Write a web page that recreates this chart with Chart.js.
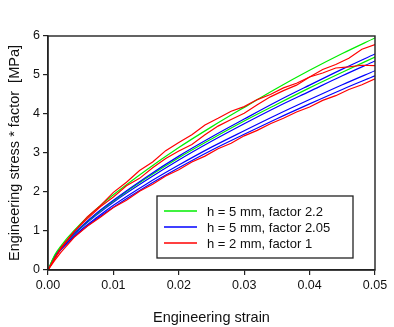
<!DOCTYPE html>
<html>
<head>
<meta charset="utf-8">
<script src="https://cdn.jsdelivr.net/npm/chart.js@4"></script>
<style>
  html, body { margin: 0; padding: 0; background: #fff; }
  #wrap { width: 394px; height: 327px; }
</style>
</head>
<body>
<div id="wrap"><canvas id="chart" width="394" height="327"></canvas></div>
<script>
// strain grids
var xSmooth = [0, 0.001, 0.002, 0.003, 0.005, 0.0075, 0.01, 0.015, 0.02, 0.025, 0.03, 0.035, 0.04, 0.045, 0.05];
var xRed = [0, 0.001, 0.002, 0.004, 0.006, 0.008, 0.010, 0.012, 0.014, 0.016, 0.018, 0.020, 0.022,
            0.024, 0.026, 0.028, 0.030, 0.032, 0.034, 0.036, 0.038, 0.040, 0.042, 0.044, 0.046, 0.048, 0.050];

// h = 5 mm, factor 2.2 (green)
var green1 = [0, 0.38, 0.62, 0.83, 1.19, 1.58, 1.93, 2.56, 3.14, 3.67, 4.17, 4.66, 5.12, 5.55, 5.95];
var green2 = [0, 0.35, 0.57, 0.76, 1.09, 1.45, 1.77, 2.35, 2.88, 3.36, 3.82, 4.25, 4.67, 5.07, 5.46];

// h = 5 mm, factor 2.05 (blue)
var blue1 = [0, 0.34, 0.57, 0.77, 1.10, 1.47, 1.79, 2.38, 2.92, 3.41, 3.87, 4.32, 4.74, 5.15, 5.54];
var blue2 = [0, 0.33, 0.56, 0.75, 1.07, 1.42, 1.74, 2.30, 2.82, 3.30, 3.75, 4.18, 4.58, 4.98, 5.36];
var blue3 = [0, 0.32, 0.54, 0.71, 1.02, 1.35, 1.66, 2.20, 2.69, 3.15, 3.57, 3.98, 4.37, 4.75, 5.11];
var blue4 = [0, 0.31, 0.52, 0.70, 0.99, 1.32, 1.61, 2.14, 2.62, 3.07, 3.48, 3.88, 4.26, 4.63, 4.98];

// h = 2 mm, factor 1 (red, noisy)
var red1 = [0, 0.30, 0.58, 0.99, 1.31, 1.62, 1.87, 2.16, 2.35, 2.62, 2.86, 3.05, 3.22, 3.47, 3.69,
            3.86, 4.02, 4.24, 4.44, 4.60, 4.74, 4.95, 5.14, 5.27, 5.43, 5.66, 5.78];
var red2 = [0, 0.28, 0.55, 0.98, 1.36, 1.65, 1.99, 2.25, 2.55, 2.77, 3.06, 3.27, 3.47, 3.72, 3.89,
            4.07, 4.19, 4.37, 4.50, 4.67, 4.79, 4.95, 5.05, 5.18, 5.21, 5.25, 5.24];
var red3 = [0, 0.24, 0.46, 0.84, 1.12, 1.35, 1.60, 1.79, 2.02, 2.20, 2.41, 2.57, 2.77, 2.92, 3.11,
            3.25, 3.44, 3.58, 3.75, 3.89, 4.05, 4.18, 4.35, 4.47, 4.63, 4.75, 4.90];

var legendLabels = ['h = 5 mm, factor 2.2', 'h = 5 mm, factor 2.05', 'h = 2 mm, factor 1'];
var legendColors = ['#00ee00', '#0000ff', '#ff0000'];

var xTicks = [0, 0.01, 0.02, 0.03, 0.04, 0.05];
var yTicks = [0, 1, 2, 3, 4, 5, 6];

function pts(xs, ys) {
    return xs.map(function (x, i) { return { x: x, y: ys[i] }; });
}

function series(xs, ys, color, jagged) {
    return {
        data: pts(xs, ys),
        borderColor: color,
        borderWidth: 1.2,
        pointRadius: 0,
        fill: false,
        tension: jagged ? 0 : 0.35,
        cubicInterpolationMode: jagged ? 'default' : 'monotone'
    };
}

var FONT = '"Liberation Sans", Arial, sans-serif';
var INK = '#111';

var framePlugin = {
    id: 'frame',
    afterDatasetsDraw: function (chart) {
        var a = chart.chartArea, ctx = chart.ctx;
        ctx.save();
        ctx.strokeStyle = '#222';
        ctx.lineWidth = 1.4;
        ctx.strokeRect(a.left, a.top, a.right - a.left, a.bottom - a.top);
        ctx.restore();
    }
};

var legendPlugin = {
    id: 'boxLegend',
    afterDraw: function (chart) {
        var ctx = chart.ctx;
        var x0 = 157, y0 = 196, w = 196, h = 62;
        ctx.save();
        ctx.fillStyle = '#fff';
        ctx.fillRect(x0, y0, w, h);
        ctx.strokeStyle = '#222';
        ctx.lineWidth = 1.3;
        ctx.strokeRect(x0, y0, w, h);
        ctx.font = '13px ' + FONT;
        ctx.textBaseline = 'middle';
        legendLabels.forEach(function (lab, i) {
            var yy = y0 + 15 + i * 16;
            ctx.strokeStyle = legendColors[i];
            ctx.lineWidth = 1.4;
            ctx.beginPath();
            ctx.moveTo(x0 + 7, yy);
            ctx.lineTo(x0 + 40, yy);
            ctx.stroke();
            ctx.fillStyle = INK;
            ctx.fillText(lab, x0 + 50, yy + 1);
        });
        ctx.restore();
    }
};

var ctx = document.getElementById('chart').getContext('2d');
new Chart(ctx, {
    type: 'line',
    data: {
        datasets: [
            series(xRed, red1, '#ff0000', true),
            series(xRed, red2, '#ff0000', true),
            series(xRed, red3, '#ff0000', true),
            series(xSmooth, green1, '#00ee00', false),
            series(xSmooth, blue1, '#0000ff', false),
            series(xSmooth, green2, '#00ee00', false),
            series(xSmooth, blue2, '#0000ff', false),
            series(xSmooth, blue3, '#0000ff', false),
            series(xSmooth, blue4, '#0000ff', false)
        ]
    },
    options: {
        responsive: false,
        animation: false,
        layout: { padding: { top: 36, right: 19, left: 0, bottom: 0 } },
        plugins: { legend: { display: false }, tooltip: { enabled: false } },
        scales: {
            x: {
                type: 'linear',
                min: 0, max: 0.05,
                afterBuildTicks: function (s) { s.ticks = xTicks.map(function (v) { return { value: v }; }); },
                afterFit: function (s) { s.height = 57; },
                ticks: {
                    color: INK, padding: 3,
                    font: { family: FONT, size: 12.5 },
                    callback: function (v) { return v.toFixed(2); }
                },
                grid: { drawOnChartArea: false, tickLength: 5, color: '#222', lineWidth: 1.2 },
                border: { display: true, color: '#222', width: 1.4 },
                title: {
                    display: true, text: 'Engineering strain', color: INK,
                    font: { family: FONT, size: 14.5 }, padding: { top: 7, bottom: 0 }
                }
            },
            y: {
                min: 0, max: 6,
                afterBuildTicks: function (s) { s.ticks = yTicks.map(function (v) { return { value: v }; }); },
                afterFit: function (s) { s.width = 48; },
                ticks: { color: INK, padding: 3, font: { family: FONT, size: 12.5 } },
                grid: { drawOnChartArea: false, tickLength: 5, color: '#222', lineWidth: 1.2 },
                border: { display: true, color: '#222', width: 1.4 },
                title: {
                    display: true, text: 'Engineering stress * factor  [MPa]', color: INK,
                    font: { family: FONT, size: 14.5 }, padding: { top: 6, bottom: 0 }
                }
            }
        }
    },
    plugins: [framePlugin, legendPlugin]
});
</script>
</body>
</html>
